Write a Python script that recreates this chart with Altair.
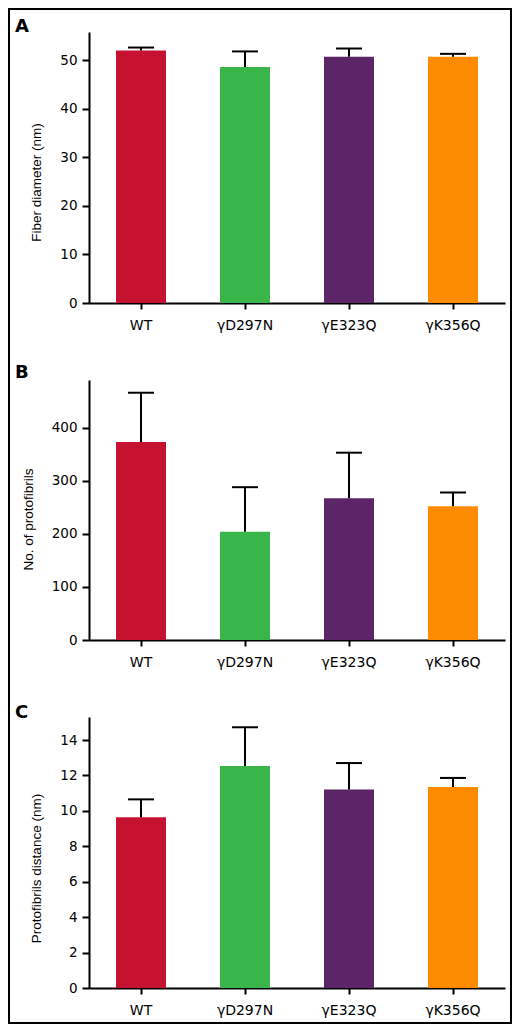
import altair as alt
import pandas as pd

GROUPS = ["WT", "γD297N", "γE323Q", "γK356Q"]
COLORS = ["#C41230", "#39B54A", "#5C2568", "#FF8C00"]

# panel A: fiber diameter (nm), mean and SD
FIBER_DIAMETER = [52.0, 48.6, 50.7, 50.7]
FIBER_DIAMETER_SD = [0.6, 3.2, 1.7, 0.6]
# panel B: number of protofibrils
PROTOFIBRILS = [373, 204, 267, 252]
PROTOFIBRILS_SD = [93, 84, 86, 26]
# panel C: protofibril distance (nm)
PF_DISTANCE = [9.64, 12.54, 11.2, 11.35]
PF_DISTANCE_SD = [1.01, 2.18, 1.5, 0.51]

LETTERS = ["A", "B", "C"]
Y_TITLES = ["Fiber diameter (nm)", "No. of protofibrils", "Protofibrils distance (nm)"]
Y_MAX = [55.8, 490, 15.3]
Y_TICKS = [
    [0, 10, 20, 30, 40, 50],
    [0, 100, 200, 300, 400],
    [0, 2, 4, 6, 8, 10, 12, 14],
]

WIDE = "DejaVu Sans, Verdana, sans-serif"
SANS = "Liberation Sans, Arial, Helvetica, sans-serif"
WIDTH = 416


def frame_box(x, x2, y, y2):
    """Piece of the black figure border (a filled strip, so its bounds are exact)."""
    return (
        alt.Chart(pd.DataFrame({"k": [0]}))
        .mark_rect(color="black")
        .encode(x=alt.value(x), x2=alt.value(x2), y=alt.value(y), y2=alt.value(y2))
    )


def panel(i, means, sds, height, top, bottom, letter_y, title_y, cap_top=False, cap_bottom=False):
    d = pd.DataFrame({
        "group": GROUPS,
        "mean": means,
        "upper": [m + s for m, s in zip(means, sds)],
    })
    x = alt.X(
        "group:N", sort=GROUPS, title=None,
        scale=alt.Scale(paddingInner=0, paddingOuter=0),
        axis=alt.Axis(
            labelAngle=0, labelFont=WIDE, labelFontSize=14, labelColor="black",
            labelPadding=9, tickSize=6, tickWidth=2, tickColor="black",
            domainColor="black", domainWidth=2, grid=False,
        ),
    )
    yscale = alt.Scale(domain=[0, Y_MAX[i]], nice=False)
    yaxis = alt.Axis(
        values=Y_TICKS[i], grid=False,
        labelFont=WIDE, labelFontSize=13.5, labelColor="black", labelPadding=5,
        tickSize=7, tickWidth=2, tickColor="black",
        domainColor="black", domainWidth=2,
        titleFont=SANS, titleFontSize=13.5, titleFontWeight="normal",
        titleColor="black", titlePadding=16, titleY=title_y,
    )

    def y(field):
        return alt.Y(f"{field}:Q", title=Y_TITLES[i], scale=yscale, axis=yaxis)

    bars = alt.Chart(d).mark_bar(size=50).encode(
        x=x,
        y=y("mean"),
        color=alt.Color("group:N", scale=alt.Scale(domain=GROUPS, range=COLORS), legend=None),
    )
    stems = alt.Chart(d).mark_rule(color="black", strokeWidth=2).encode(
        x=x, y=y("mean"), y2="upper:Q"
    )
    caps = alt.Chart(d).mark_tick(
        color="black", thickness=2, size=26, orient="horizontal", opacity=1
    ).encode(x=x, y=y("upper"))

    letter = alt.Chart(pd.DataFrame({"letter": [LETTERS[i]]})).mark_text(
        font=WIDE, fontSize=18, fontWeight="bold", align="left",
        baseline="alphabetic", color="black",
    ).encode(text="letter:N", x=alt.value(-74), y=alt.value(letter_y))

    layers = [bars, stems, caps, letter,
              frame_box(-81, -79, top, bottom),
              frame_box(421, 423, top, bottom)]
    if cap_top:
        layers.append(frame_box(-81, 423, top, top + 2))
    if cap_bottom:
        layers.append(frame_box(-81, 423, bottom - 2, bottom))
    return alt.layer(*layers).properties(width=WIDTH, height=height)


a = panel(0, FIBER_DIAMETER, FIBER_DIAMETER_SD, 271, -24, 308, 0, 150, cap_top=True)
b = panel(1, PROTOFIBRILS, PROTOFIBRILS_SD, 260, -40, 300, -2, 139)
c = panel(2, PF_DISTANCE, PF_DISTANCE_SD, 271, -37, 307, 1, 151, cap_bottom=True)

chart = (
    alt.vconcat(a, b, c, spacing=0)
    .properties(padding=0, background="white")
    .configure_view(strokeWidth=0)
)

chart.save("out.html", embed_options={"renderer": "svg", "actions": False})
